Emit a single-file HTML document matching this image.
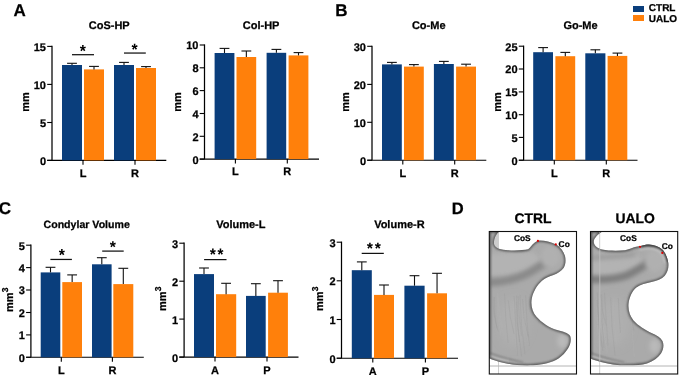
<!DOCTYPE html>
<html><head><meta charset="utf-8"><style>
html,body{margin:0;padding:0;background:#fff;}
body{width:685px;height:375px;overflow:hidden;}
svg{display:block;will-change:transform;}
text{stroke:#000;stroke-width:0.25px;}
</style></head><body>
<svg width="685" height="375" viewBox="0 0 685 375" font-family='"Liberation Sans", sans-serif' text-rendering="geometricPrecision">
<rect width="685" height="375" fill="#fff"/>
<line x1="52.0" y1="45.8" x2="52.0" y2="160.4" stroke="#000" stroke-width="1.25"/>
<line x1="47.2" y1="160.4" x2="166.3" y2="160.4" stroke="#000" stroke-width="1.1"/>
<line x1="47.2" y1="160.4" x2="52.0" y2="160.4" stroke="#000" stroke-width="1.1"/>
<text x="46.0" y="164.8" font-size="11" text-anchor="end" font-weight="bold" >0</text>
<line x1="47.2" y1="122.5" x2="52.0" y2="122.5" stroke="#000" stroke-width="1.1"/>
<text x="46.0" y="126.9" font-size="11" text-anchor="end" font-weight="bold" >5</text>
<line x1="47.2" y1="84.4" x2="52.0" y2="84.4" stroke="#000" stroke-width="1.1"/>
<text x="46.0" y="88.8" font-size="11" text-anchor="end" font-weight="bold" >10</text>
<line x1="47.2" y1="46.4" x2="52.0" y2="46.4" stroke="#000" stroke-width="1.1"/>
<text x="46.0" y="50.8" font-size="11" text-anchor="end" font-weight="bold" >15</text>
<rect x="62" y="65" width="20" height="95.4" fill="#0a3e7c"/>
<rect x="84" y="69.4" width="20" height="91.0" fill="#ff800b"/>
<rect x="114" y="65" width="20" height="95.4" fill="#0a3e7c"/>
<rect x="136" y="68" width="20" height="92.4" fill="#ff800b"/>
<line x1="72.0" y1="63.3" x2="72.0" y2="65" stroke="#111" stroke-width="1.1"/>
<line x1="67.1" y1="63.3" x2="76.9" y2="63.3" stroke="#111" stroke-width="1.1"/>
<line x1="94.0" y1="66.4" x2="94.0" y2="69.4" stroke="#111" stroke-width="1.1"/>
<line x1="89.1" y1="66.4" x2="98.9" y2="66.4" stroke="#111" stroke-width="1.1"/>
<line x1="124.0" y1="62.4" x2="124.0" y2="65" stroke="#111" stroke-width="1.1"/>
<line x1="119.1" y1="62.4" x2="128.9" y2="62.4" stroke="#111" stroke-width="1.1"/>
<line x1="146.0" y1="66.6" x2="146.0" y2="68" stroke="#111" stroke-width="1.1"/>
<line x1="141.1" y1="66.6" x2="150.9" y2="66.6" stroke="#111" stroke-width="1.1"/>
<line x1="83" y1="160.4" x2="83" y2="164.8" stroke="#000" stroke-width="1.1"/>
<text x="83" y="176.6" font-size="11" text-anchor="middle" font-weight="bold" >L</text>
<line x1="135" y1="160.4" x2="135" y2="164.8" stroke="#000" stroke-width="1.1"/>
<text x="135" y="176.6" font-size="11" text-anchor="middle" font-weight="bold" >R</text>
<text x="109.2" y="28.7" font-size="11" text-anchor="middle" font-weight="bold" >CoS-HP</text>
<text transform="translate(29.2,101.9) rotate(-90)" font-size="11" font-weight="bold" text-anchor="middle">mm</text>
<line x1="72" y1="54.7" x2="94" y2="54.7" stroke="#111" stroke-width="1.25"/>
<polygon points="83.545,47.294 85.331,46.462 85.848,48.038 83.948,48.526 85.362,50.23 83.963,51.198 82.854,49.182 81.721,51.198 80.308,50.214 81.752,48.526 79.852,48.038 80.369,46.462 82.185,47.294 82.048,45.102 83.682,45.102" fill="#000"/>
<line x1="124" y1="53.05" x2="145.8" y2="53.05" stroke="#111" stroke-width="1.25"/>
<polygon points="135.295,45.894 137.081,45.062 137.598,46.638 135.698,47.126 137.112,48.83 135.713,49.798 134.604,47.782 133.471,49.798 132.058,48.814 133.502,47.126 131.602,46.638 132.119,45.062 133.935,45.894 133.798,43.702 135.432,43.702" fill="#000"/>
<line x1="204.5" y1="44.4" x2="204.5" y2="159.1" stroke="#000" stroke-width="1.25"/>
<line x1="199.7" y1="159.1" x2="319" y2="159.1" stroke="#000" stroke-width="1.1"/>
<line x1="199.7" y1="159.1" x2="204.5" y2="159.1" stroke="#000" stroke-width="1.1"/>
<text x="198.5" y="163.5" font-size="11" text-anchor="end" font-weight="bold" >0</text>
<line x1="199.7" y1="136.3" x2="204.5" y2="136.3" stroke="#000" stroke-width="1.1"/>
<text x="198.5" y="140.7" font-size="11" text-anchor="end" font-weight="bold" >2</text>
<line x1="199.7" y1="113.5" x2="204.5" y2="113.5" stroke="#000" stroke-width="1.1"/>
<text x="198.5" y="117.9" font-size="11" text-anchor="end" font-weight="bold" >4</text>
<line x1="199.7" y1="90.6" x2="204.5" y2="90.6" stroke="#000" stroke-width="1.1"/>
<text x="198.5" y="95.0" font-size="11" text-anchor="end" font-weight="bold" >6</text>
<line x1="199.7" y1="67.8" x2="204.5" y2="67.8" stroke="#000" stroke-width="1.1"/>
<text x="198.5" y="72.2" font-size="11" text-anchor="end" font-weight="bold" >8</text>
<line x1="199.7" y1="45" x2="204.5" y2="45" stroke="#000" stroke-width="1.1"/>
<text x="198.5" y="49.4" font-size="11" text-anchor="end" font-weight="bold" >10</text>
<rect x="214.6" y="53" width="19.8" height="106.1" fill="#0a3e7c"/>
<rect x="236.5" y="57" width="19.7" height="102.1" fill="#ff800b"/>
<rect x="266.6" y="52.8" width="19.6" height="106.3" fill="#0a3e7c"/>
<rect x="288.6" y="55.4" width="19.8" height="103.7" fill="#ff800b"/>
<line x1="224.5" y1="48.4" x2="224.5" y2="53" stroke="#111" stroke-width="1.1"/>
<line x1="219.6" y1="48.4" x2="229.4" y2="48.4" stroke="#111" stroke-width="1.1"/>
<line x1="246.35" y1="51" x2="246.35" y2="57" stroke="#111" stroke-width="1.1"/>
<line x1="241.45" y1="51" x2="251.25" y2="51" stroke="#111" stroke-width="1.1"/>
<line x1="276.4" y1="49.4" x2="276.4" y2="52.8" stroke="#111" stroke-width="1.1"/>
<line x1="271.5" y1="49.4" x2="281.29999999999995" y2="49.4" stroke="#111" stroke-width="1.1"/>
<line x1="298.5" y1="52.6" x2="298.5" y2="55.4" stroke="#111" stroke-width="1.1"/>
<line x1="293.6" y1="52.6" x2="303.4" y2="52.6" stroke="#111" stroke-width="1.1"/>
<line x1="235.4" y1="159.1" x2="235.4" y2="163.5" stroke="#000" stroke-width="1.1"/>
<text x="235.4" y="175.4" font-size="11" text-anchor="middle" font-weight="bold" >L</text>
<line x1="287.3" y1="159.1" x2="287.3" y2="163.5" stroke="#000" stroke-width="1.1"/>
<text x="287.3" y="175.4" font-size="11" text-anchor="middle" font-weight="bold" >R</text>
<text x="261.1" y="28.7" font-size="11" text-anchor="middle" font-weight="bold" >Col-HP</text>
<text transform="translate(181.4,101.9) rotate(-90)" font-size="11" font-weight="bold" text-anchor="middle">mm</text>
<line x1="372.0" y1="45.699999999999996" x2="372.0" y2="160.2" stroke="#000" stroke-width="1.25"/>
<line x1="367.2" y1="160.2" x2="486.3" y2="160.2" stroke="#000" stroke-width="1.1"/>
<line x1="367.2" y1="160.2" x2="372.0" y2="160.2" stroke="#000" stroke-width="1.1"/>
<text x="366.0" y="164.6" font-size="11" text-anchor="end" font-weight="bold" >0</text>
<line x1="367.2" y1="122.3" x2="372.0" y2="122.3" stroke="#000" stroke-width="1.1"/>
<text x="366.0" y="126.7" font-size="11" text-anchor="end" font-weight="bold" >10</text>
<line x1="367.2" y1="84.4" x2="372.0" y2="84.4" stroke="#000" stroke-width="1.1"/>
<text x="366.0" y="88.8" font-size="11" text-anchor="end" font-weight="bold" >20</text>
<line x1="367.2" y1="46.3" x2="372.0" y2="46.3" stroke="#000" stroke-width="1.1"/>
<text x="366.0" y="50.7" font-size="11" text-anchor="end" font-weight="bold" >30</text>
<rect x="382" y="64.4" width="19.8" height="95.8" fill="#0a3e7c"/>
<rect x="404" y="66.6" width="19.8" height="93.6" fill="#ff800b"/>
<rect x="433.9" y="64" width="19.9" height="96.2" fill="#0a3e7c"/>
<rect x="456.1" y="66.6" width="19.9" height="93.6" fill="#ff800b"/>
<line x1="391.9" y1="62.4" x2="391.9" y2="64.4" stroke="#111" stroke-width="1.1"/>
<line x1="387.0" y1="62.4" x2="396.79999999999995" y2="62.4" stroke="#111" stroke-width="1.1"/>
<line x1="413.9" y1="64.6" x2="413.9" y2="66.6" stroke="#111" stroke-width="1.1"/>
<line x1="409.0" y1="64.6" x2="418.79999999999995" y2="64.6" stroke="#111" stroke-width="1.1"/>
<line x1="443.85" y1="61.4" x2="443.85" y2="64" stroke="#111" stroke-width="1.1"/>
<line x1="438.95000000000005" y1="61.4" x2="448.75" y2="61.4" stroke="#111" stroke-width="1.1"/>
<line x1="466.05" y1="64.2" x2="466.05" y2="66.6" stroke="#111" stroke-width="1.1"/>
<line x1="461.15000000000003" y1="64.2" x2="470.95" y2="64.2" stroke="#111" stroke-width="1.1"/>
<line x1="402.8" y1="160.2" x2="402.8" y2="164.6" stroke="#000" stroke-width="1.1"/>
<text x="402.8" y="176.6" font-size="11" text-anchor="middle" font-weight="bold" >L</text>
<line x1="454.7" y1="160.2" x2="454.7" y2="164.6" stroke="#000" stroke-width="1.1"/>
<text x="454.7" y="176.6" font-size="11" text-anchor="middle" font-weight="bold" >R</text>
<text x="428.7" y="28.7" font-size="11" text-anchor="middle" font-weight="bold" >Co-Me</text>
<text transform="translate(349.1,101.9) rotate(-90)" font-size="11" font-weight="bold" text-anchor="middle">mm</text>
<line x1="523.6" y1="45.6" x2="523.6" y2="160.2" stroke="#000" stroke-width="1.25"/>
<line x1="518.8000000000001" y1="160.2" x2="637.5" y2="160.2" stroke="#000" stroke-width="1.1"/>
<line x1="518.8000000000001" y1="160.2" x2="523.6" y2="160.2" stroke="#000" stroke-width="1.1"/>
<text x="517.6" y="164.6" font-size="11" text-anchor="end" font-weight="bold" >0</text>
<line x1="518.8000000000001" y1="137.4" x2="523.6" y2="137.4" stroke="#000" stroke-width="1.1"/>
<text x="517.6" y="141.8" font-size="11" text-anchor="end" font-weight="bold" >5</text>
<line x1="518.8000000000001" y1="114.7" x2="523.6" y2="114.7" stroke="#000" stroke-width="1.1"/>
<text x="517.6" y="119.1" font-size="11" text-anchor="end" font-weight="bold" >10</text>
<line x1="518.8000000000001" y1="91.9" x2="523.6" y2="91.9" stroke="#000" stroke-width="1.1"/>
<text x="517.6" y="96.3" font-size="11" text-anchor="end" font-weight="bold" >15</text>
<line x1="518.8000000000001" y1="69.0" x2="523.6" y2="69.0" stroke="#000" stroke-width="1.1"/>
<text x="517.6" y="73.4" font-size="11" text-anchor="end" font-weight="bold" >20</text>
<line x1="518.8000000000001" y1="46.2" x2="523.6" y2="46.2" stroke="#000" stroke-width="1.1"/>
<text x="517.6" y="50.6" font-size="11" text-anchor="end" font-weight="bold" >25</text>
<rect x="533.2" y="52.2" width="19.8" height="108.0" fill="#0a3e7c"/>
<rect x="555.4" y="56.2" width="19.8" height="104.0" fill="#ff800b"/>
<rect x="585.3" y="53.3" width="20.1" height="106.9" fill="#0a3e7c"/>
<rect x="607.6" y="55.9" width="19.7" height="104.3" fill="#ff800b"/>
<line x1="543.1" y1="47.6" x2="543.1" y2="52.2" stroke="#111" stroke-width="1.1"/>
<line x1="538.2" y1="47.6" x2="548.0" y2="47.6" stroke="#111" stroke-width="1.1"/>
<line x1="565.3" y1="52.4" x2="565.3" y2="56.2" stroke="#111" stroke-width="1.1"/>
<line x1="560.4" y1="52.4" x2="570.1999999999999" y2="52.4" stroke="#111" stroke-width="1.1"/>
<line x1="595.35" y1="49.8" x2="595.35" y2="53.3" stroke="#111" stroke-width="1.1"/>
<line x1="590.45" y1="49.8" x2="600.25" y2="49.8" stroke="#111" stroke-width="1.1"/>
<line x1="617.45" y1="53.1" x2="617.45" y2="55.9" stroke="#111" stroke-width="1.1"/>
<line x1="612.5500000000001" y1="53.1" x2="622.35" y2="53.1" stroke="#111" stroke-width="1.1"/>
<line x1="554.3" y1="160.2" x2="554.3" y2="164.6" stroke="#000" stroke-width="1.1"/>
<text x="554.3" y="176.6" font-size="11" text-anchor="middle" font-weight="bold" >L</text>
<line x1="606.3" y1="160.2" x2="606.3" y2="164.6" stroke="#000" stroke-width="1.1"/>
<text x="606.3" y="176.6" font-size="11" text-anchor="middle" font-weight="bold" >R</text>
<text x="580.5" y="28.7" font-size="11" text-anchor="middle" font-weight="bold" >Go-Me</text>
<text transform="translate(500.8,101.9) rotate(-90)" font-size="11" font-weight="bold" text-anchor="middle">mm</text>
<line x1="30.9" y1="244.6" x2="30.9" y2="357.3" stroke="#000" stroke-width="1.25"/>
<line x1="26.099999999999998" y1="357.3" x2="143.8" y2="357.3" stroke="#000" stroke-width="1.1"/>
<line x1="26.099999999999998" y1="357.3" x2="30.9" y2="357.3" stroke="#000" stroke-width="1.1"/>
<text x="24.9" y="361.7" font-size="11" text-anchor="end" font-weight="bold" >0</text>
<line x1="26.099999999999998" y1="334.9" x2="30.9" y2="334.9" stroke="#000" stroke-width="1.1"/>
<text x="24.9" y="339.3" font-size="11" text-anchor="end" font-weight="bold" >1</text>
<line x1="26.099999999999998" y1="312.5" x2="30.9" y2="312.5" stroke="#000" stroke-width="1.1"/>
<text x="24.9" y="316.9" font-size="11" text-anchor="end" font-weight="bold" >2</text>
<line x1="26.099999999999998" y1="290.0" x2="30.9" y2="290.0" stroke="#000" stroke-width="1.1"/>
<text x="24.9" y="294.4" font-size="11" text-anchor="end" font-weight="bold" >3</text>
<line x1="26.099999999999998" y1="267.6" x2="30.9" y2="267.6" stroke="#000" stroke-width="1.1"/>
<text x="24.9" y="272.0" font-size="11" text-anchor="end" font-weight="bold" >4</text>
<line x1="26.099999999999998" y1="245.2" x2="30.9" y2="245.2" stroke="#000" stroke-width="1.1"/>
<text x="24.9" y="249.6" font-size="11" text-anchor="end" font-weight="bold" >5</text>
<rect x="40.7" y="272.4" width="19.6" height="84.9" fill="#0a3e7c"/>
<rect x="62.3" y="282.1" width="19.7" height="75.2" fill="#ff800b"/>
<rect x="92" y="264.3" width="19.6" height="93.0" fill="#0a3e7c"/>
<rect x="113.3" y="284.1" width="20.0" height="73.2" fill="#ff800b"/>
<line x1="50.5" y1="267.3" x2="50.5" y2="272.4" stroke="#111" stroke-width="1.1"/>
<line x1="45.6" y1="267.3" x2="55.4" y2="267.3" stroke="#111" stroke-width="1.1"/>
<line x1="72.15" y1="274.9" x2="72.15" y2="282.1" stroke="#111" stroke-width="1.1"/>
<line x1="67.25" y1="274.9" x2="77.05000000000001" y2="274.9" stroke="#111" stroke-width="1.1"/>
<line x1="101.8" y1="257.7" x2="101.8" y2="264.3" stroke="#111" stroke-width="1.1"/>
<line x1="96.89999999999999" y1="257.7" x2="106.7" y2="257.7" stroke="#111" stroke-width="1.1"/>
<line x1="123.3" y1="268.3" x2="123.3" y2="284.1" stroke="#111" stroke-width="1.1"/>
<line x1="118.39999999999999" y1="268.3" x2="128.2" y2="268.3" stroke="#111" stroke-width="1.1"/>
<line x1="61.3" y1="357.3" x2="61.3" y2="361.7" stroke="#000" stroke-width="1.1"/>
<text x="61.3" y="374.4" font-size="11" text-anchor="middle" font-weight="bold" >L</text>
<line x1="112.4" y1="357.3" x2="112.4" y2="361.7" stroke="#000" stroke-width="1.1"/>
<text x="112.4" y="374.4" font-size="11" text-anchor="middle" font-weight="bold" >R</text>
<text x="86.7" y="228" font-size="10.6" text-anchor="middle" font-weight="bold" >Condylar Volume</text>
<text transform="translate(13.4,302.15) rotate(-90)" font-size="11" font-weight="bold" text-anchor="middle">mm</text>
<text transform="translate(8.3,292.25) rotate(-90)" font-size="8.6" font-weight="bold" text-rendering="geometricPrecision">3</text>
<line x1="50.4" y1="259.45" x2="71.9" y2="259.45" stroke="#111" stroke-width="1.25"/>
<polygon points="62.545,251.294 64.331,250.462 64.848,252.038 62.948,252.526 64.362,254.23 62.963,255.198 61.854,253.182 60.721,255.198 59.308,254.214 60.752,252.526 58.852,252.038 59.369,250.462 61.185,251.294 61.048,249.102 62.682,249.102" fill="#000"/>
<line x1="102.2" y1="251.1" x2="123.7" y2="251.1" stroke="#111" stroke-width="1.25"/>
<polygon points="113.545,243.394 115.331,242.562 115.848,244.138 113.948,244.626 115.362,246.33 113.963,247.298 112.854,245.282 111.721,247.298 110.308,246.314 111.752,244.626 109.852,244.138 110.369,242.562 112.185,243.394 112.048,241.202 113.682,241.202" fill="#000"/>
<line x1="184.1" y1="242.6" x2="184.1" y2="357.1" stroke="#000" stroke-width="1.25"/>
<line x1="179.29999999999998" y1="357.1" x2="298.5" y2="357.1" stroke="#000" stroke-width="1.1"/>
<line x1="179.29999999999998" y1="357.1" x2="184.1" y2="357.1" stroke="#000" stroke-width="1.1"/>
<text x="178.1" y="361.5" font-size="11" text-anchor="end" font-weight="bold" >0</text>
<line x1="179.29999999999998" y1="319.1" x2="184.1" y2="319.1" stroke="#000" stroke-width="1.1"/>
<text x="178.1" y="323.5" font-size="11" text-anchor="end" font-weight="bold" >1</text>
<line x1="179.29999999999998" y1="281.2" x2="184.1" y2="281.2" stroke="#000" stroke-width="1.1"/>
<text x="178.1" y="285.6" font-size="11" text-anchor="end" font-weight="bold" >2</text>
<line x1="179.29999999999998" y1="243.2" x2="184.1" y2="243.2" stroke="#000" stroke-width="1.1"/>
<text x="178.1" y="247.6" font-size="11" text-anchor="end" font-weight="bold" >3</text>
<rect x="194" y="274.1" width="20" height="83.0" fill="#0a3e7c"/>
<rect x="216" y="294.2" width="20.2" height="62.9" fill="#ff800b"/>
<rect x="246" y="295.9" width="19.7" height="61.2" fill="#0a3e7c"/>
<rect x="268.1" y="292.7" width="19.8" height="64.4" fill="#ff800b"/>
<line x1="204.0" y1="268" x2="204.0" y2="274.1" stroke="#111" stroke-width="1.1"/>
<line x1="199.1" y1="268" x2="208.9" y2="268" stroke="#111" stroke-width="1.1"/>
<line x1="226.1" y1="283.3" x2="226.1" y2="294.2" stroke="#111" stroke-width="1.1"/>
<line x1="221.2" y1="283.3" x2="231.0" y2="283.3" stroke="#111" stroke-width="1.1"/>
<line x1="255.85" y1="283.7" x2="255.85" y2="295.9" stroke="#111" stroke-width="1.1"/>
<line x1="250.95" y1="283.7" x2="260.75" y2="283.7" stroke="#111" stroke-width="1.1"/>
<line x1="278.0" y1="280.7" x2="278.0" y2="292.7" stroke="#111" stroke-width="1.1"/>
<line x1="273.1" y1="280.7" x2="282.9" y2="280.7" stroke="#111" stroke-width="1.1"/>
<line x1="215" y1="357.1" x2="215" y2="361.5" stroke="#000" stroke-width="1.1"/>
<text x="215" y="374.4" font-size="11" text-anchor="middle" font-weight="bold" >A</text>
<line x1="267" y1="357.1" x2="267" y2="361.5" stroke="#000" stroke-width="1.1"/>
<text x="267" y="374.4" font-size="11" text-anchor="middle" font-weight="bold" >P</text>
<text x="240.85" y="227.8" font-size="11" text-anchor="middle" font-weight="bold" >Volume-L</text>
<text transform="translate(166.3,301.2) rotate(-90)" font-size="11" font-weight="bold" text-anchor="middle">mm</text>
<text transform="translate(161.2,291.3) rotate(-90)" font-size="8.6" font-weight="bold" text-rendering="geometricPrecision">3</text>
<line x1="204.1" y1="259.6" x2="226.5" y2="259.6" stroke="#111" stroke-width="1.25"/>
<polygon points="213.545,250.744 215.331,249.912 215.848,251.488 213.948,251.976 215.362,253.68 213.963,254.648 212.854,252.632 211.721,254.648 210.308,253.664 211.752,251.976 209.852,251.488 210.369,249.912 212.185,250.744 212.048,248.552 213.682,248.552" fill="#000"/>
<polygon points="221.145,250.744 222.931,249.912 223.448,251.488 221.548,251.976 222.962,253.68 221.563,254.648 220.454,252.632 219.321,254.648 217.908,253.664 219.352,251.976 217.452,251.488 217.969,249.912 219.785,250.744 219.648,248.552 221.282,248.552" fill="#000"/>
<line x1="341.5" y1="241.6" x2="341.5" y2="358.2" stroke="#000" stroke-width="1.25"/>
<line x1="336.7" y1="358.2" x2="458" y2="358.2" stroke="#000" stroke-width="1.1"/>
<line x1="336.7" y1="358.2" x2="341.5" y2="358.2" stroke="#000" stroke-width="1.1"/>
<text x="335.5" y="362.6" font-size="11" text-anchor="end" font-weight="bold" >0</text>
<line x1="336.7" y1="319.5" x2="341.5" y2="319.5" stroke="#000" stroke-width="1.1"/>
<text x="335.5" y="323.9" font-size="11" text-anchor="end" font-weight="bold" >1</text>
<line x1="336.7" y1="280.8" x2="341.5" y2="280.8" stroke="#000" stroke-width="1.1"/>
<text x="335.5" y="285.2" font-size="11" text-anchor="end" font-weight="bold" >2</text>
<line x1="336.7" y1="242.2" x2="341.5" y2="242.2" stroke="#000" stroke-width="1.1"/>
<text x="335.5" y="246.6" font-size="11" text-anchor="end" font-weight="bold" >3</text>
<rect x="351.8" y="270.2" width="20.0" height="88.0" fill="#0a3e7c"/>
<rect x="374" y="294.9" width="20" height="63.3" fill="#ff800b"/>
<rect x="404.4" y="285.7" width="20.2" height="72.5" fill="#0a3e7c"/>
<rect x="427.1" y="293.3" width="19.9" height="64.9" fill="#ff800b"/>
<line x1="361.8" y1="261.9" x2="361.8" y2="270.2" stroke="#111" stroke-width="1.1"/>
<line x1="356.90000000000003" y1="261.9" x2="366.7" y2="261.9" stroke="#111" stroke-width="1.1"/>
<line x1="384.0" y1="285" x2="384.0" y2="294.9" stroke="#111" stroke-width="1.1"/>
<line x1="379.1" y1="285" x2="388.9" y2="285" stroke="#111" stroke-width="1.1"/>
<line x1="414.5" y1="275.7" x2="414.5" y2="285.7" stroke="#111" stroke-width="1.1"/>
<line x1="409.6" y1="275.7" x2="419.4" y2="275.7" stroke="#111" stroke-width="1.1"/>
<line x1="437.05" y1="273.3" x2="437.05" y2="293.3" stroke="#111" stroke-width="1.1"/>
<line x1="432.15000000000003" y1="273.3" x2="441.95" y2="273.3" stroke="#111" stroke-width="1.1"/>
<line x1="372.8" y1="358.2" x2="372.8" y2="362.59999999999997" stroke="#000" stroke-width="1.1"/>
<text x="372.8" y="374.6" font-size="11" text-anchor="middle" font-weight="bold" >A</text>
<line x1="425.4" y1="358.2" x2="425.4" y2="362.59999999999997" stroke="#000" stroke-width="1.1"/>
<text x="425.4" y="374.6" font-size="11" text-anchor="middle" font-weight="bold" >P</text>
<text x="399.4" y="227.8" font-size="11" text-anchor="middle" font-weight="bold" >Volume-R</text>
<text transform="translate(322.6,301.2) rotate(-90)" font-size="11" font-weight="bold" text-anchor="middle">mm</text>
<text transform="translate(317.5,291.3) rotate(-90)" font-size="8.6" font-weight="bold" text-rendering="geometricPrecision">3</text>
<line x1="361.7" y1="253.4" x2="383.8" y2="253.4" stroke="#111" stroke-width="1.25"/>
<polygon points="370.595,244.844 372.381,244.012 372.898,245.588 370.998,246.076 372.412,247.78 371.013,248.748 369.904,246.732 368.771,248.748 367.358,247.764 368.802,246.076 366.902,245.588 367.419,244.012 369.235,244.844 369.098,242.652 370.732,242.652" fill="#000"/>
<polygon points="378.545,244.844 380.331,244.012 380.848,245.588 378.948,246.076 380.362,247.78 378.963,248.748 377.854,246.732 376.721,248.748 375.308,247.764 376.752,246.076 374.852,245.588 375.369,244.012 377.185,244.844 377.048,242.652 378.682,242.652" fill="#000"/>
<text x="13.4" y="15.9" font-size="17" text-anchor="start" font-weight="bold" >A</text>
<text x="335.2" y="16.0" font-size="17" text-anchor="start" font-weight="bold" >B</text>
<text x="-1.2" y="214.3" font-size="17" text-anchor="start" font-weight="bold" >C</text>
<text x="451.7" y="214.3" font-size="16.5" text-anchor="start" font-weight="bold" >D</text>
<rect x="633" y="6" width="11" height="6" fill="#0a3e7c"/>
<rect x="633" y="15" width="11" height="6" fill="#ff800b"/>
<text x="648.8" y="11.4" font-size="10.0" text-anchor="start" font-weight="bold" >CTRL</text>
<text x="648.8" y="21.7" font-size="10.0" text-anchor="start" font-weight="bold" >UALO</text>
<text x="533.05" y="223" font-size="13.9" text-anchor="middle" font-weight="bold" >CTRL</text>
<text x="635.1" y="223" font-size="13.9" text-anchor="middle" font-weight="bold" >UALO</text>
<defs>
<filter id="bl2" filterUnits="userSpaceOnUse" x="470" y="220" width="215" height="160"><feGaussianBlur stdDeviation="2"/></filter>
<filter id="bl4" filterUnits="userSpaceOnUse" x="470" y="220" width="215" height="160"><feGaussianBlur stdDeviation="4"/></filter>
<filter id="bl1" filterUnits="userSpaceOnUse" x="470" y="220" width="215" height="160"><feGaussianBlur stdDeviation="0.9"/></filter>
<clipPath id="cpA"><path d="M489.3,231.3 L500,231.3 C496.5,233 493.8,238.5 494,243.4 C494.3,247.2 498.5,249.3 506,250.1 C514,250.7 523,250.4 528.2,249.3 C530.5,247.5 532,244.5 534.5,242.8 C536,241.6 537,240.9 538,240.7 C543,240.2 550,241.6 556,244.4 C560.5,247 563.8,251.5 565,256 C566,260.5 565.6,264.5 563.8,267.8 C561.5,271.2 557.5,273.4 553.5,275 C549.5,276.3 545.5,277.8 542,280.8 C537.2,285 533.3,291.5 531.8,298.5 C530.6,305 532.2,312 536.5,316.8 C541.5,322.5 549,327.8 557.9,330.3 C563,331.6 568,332.8 570.2,336 C571.5,339.5 570.6,344.5 568,348.5 C565.5,352.5 562.5,355.8 558.5,358.4 C552,362.6 543,364.6 533,365.3 C522,365.9 511,364.7 503,362.8 C497,361.4 492.5,359.8 489.3,358.2 Z"/></clipPath>
<clipPath id="cpB"><path d="M590.6,231.3 L602.8,231.3 C598.5,234 594.3,237.5 593.8,241.3 C593.5,245 597,248.2 602,249.5 C609,250.9 618,250.9 625,250.2 C629,249.7 631.5,248.2 634,247.3 C637,246.5 639,246.2 640,246.2 C643,245 646,244.4 649,244.4 C654,244.6 659,246.5 662.3,249.6 C665.5,252.8 667.6,258 668.4,263.5 C668.8,268 667.6,272 664.8,275.8 C661.8,279.2 656.8,280.8 651.5,282 C646,283.2 640.5,284.5 636.3,287.5 C631.8,291.5 629.3,297.5 628.5,304 C628,310.5 630,316 633.5,320.5 C638,325.5 645,330 652,333.2 C656.5,335 660.5,337.5 662.5,341 C664.2,345 663.5,349.5 661,353.5 C658,358 653.5,361 647,363.5 C640,365.4 630,365.6 620,365.2 C610,364.5 602,362.5 596,360.5 C593.5,359.7 591.8,359 590.6,358.5 Z"/></clipPath>
</defs>
<line x1="498.5" y1="232" x2="498.5" y2="374" stroke="#cfcfcf" stroke-width="1"/>
<path d="M493,232 L498.2,232 L498.2,249 L493,249 Z" fill="#cdcdcd"/>
<path d="M489.3,231.3 L500,231.3 C496.5,233 493.8,238.5 494,243.4 C494.3,247.2 498.5,249.3 506,250.1 C514,250.7 523,250.4 528.2,249.3 C530.5,247.5 532,244.5 534.5,242.8 C536,241.6 537,240.9 538,240.7 C543,240.2 550,241.6 556,244.4 C560.5,247 563.8,251.5 565,256 C566,260.5 565.6,264.5 563.8,267.8 C561.5,271.2 557.5,273.4 553.5,275 C549.5,276.3 545.5,277.8 542,280.8 C537.2,285 533.3,291.5 531.8,298.5 C530.6,305 532.2,312 536.5,316.8 C541.5,322.5 549,327.8 557.9,330.3 C563,331.6 568,332.8 570.2,336 C571.5,339.5 570.6,344.5 568,348.5 C565.5,352.5 562.5,355.8 558.5,358.4 C552,362.6 543,364.6 533,365.3 C522,365.9 511,364.7 503,362.8 C497,361.4 492.5,359.8 489.3,358.2 Z" fill="#aaaaaa"/>
<g clip-path="url(#cpA)">
<path d="M483.3,254 L533.3,252 L543.3,262 L529.3,271 L507.3,275.5 L483.3,276 Z" fill="#b3b3b3" filter="url(#bl2)"/>
<path d="M483.3,282.5 C503.3,282.5 519.3,278 529.3,272.5 C536.3,268.5 542.3,264.5 549.3,260" stroke="#8a8a8a" stroke-width="8" fill="none" filter="url(#bl2)"/>
<ellipse cx="550.3" cy="257" rx="10" ry="11" fill="#b0b0b0" filter="url(#bl2)"/>
<ellipse cx="513.3" cy="322" rx="15" ry="24" fill="#afafaf" filter="url(#bl4)"/>
<path d="M504.6,293.5 q0.6,24.8 3.5,49.5" stroke="#909090" stroke-width="0.6" fill="none" opacity="0.35"/>
<path d="M494.5,297.1 q-0.8,15.6 2.4,31.1" stroke="#909090" stroke-width="0.6" fill="none" opacity="0.35"/>
<path d="M508.4,300.3 q0.9,16.9 5.8,33.7" stroke="#909090" stroke-width="0.6" fill="none" opacity="0.35"/>
<path d="M514.2,296.0 q1.6,29.6 3.2,59.3" stroke="#909090" stroke-width="0.6" fill="none" opacity="0.35"/>
<path d="M497.8,293.2 q-0.5,19.6 4.3,39.3" stroke="#b8b8b8" stroke-width="0.6" fill="none" opacity="0.35"/>
<path d="M516.6,295.7 q-0.8,23.2 2.8,46.4" stroke="#909090" stroke-width="0.6" fill="none" opacity="0.35"/>
<path d="M518.2,296.3 q0.4,19.7 3.2,39.4" stroke="#909090" stroke-width="0.6" fill="none" opacity="0.35"/>
<path d="M522.5,299.0 q0.6,18.7 5.5,37.3" stroke="#909090" stroke-width="0.6" fill="none" opacity="0.35"/>
<path d="M520.0,294.9 q0.3,29.7 5.0,59.4" stroke="#909090" stroke-width="0.6" fill="none" opacity="0.35"/>
<path d="M498.1,296.9 q1.3,15.6 4.3,31.2" stroke="#b8b8b8" stroke-width="0.6" fill="none" opacity="0.35"/>
<path d="M525.6,295.1 q0.7,25.4 3.8,50.9" stroke="#909090" stroke-width="0.6" fill="none" opacity="0.35"/>
<path d="M524.2,301.4 q-0.8,22.1 4.8,44.2" stroke="#b8b8b8" stroke-width="0.6" fill="none" opacity="0.35"/>
<path d="M516.9,301.9 q0.2,27.3 4.7,54.7" stroke="#909090" stroke-width="0.6" fill="none" opacity="0.35"/>
<path d="M493.2,296.6 q-0.8,17.5 5.1,35.0" stroke="#909090" stroke-width="0.6" fill="none" opacity="0.35"/>
<path d="M497.2,294.5 q-0.8,20.9 3.8,41.7" stroke="#b8b8b8" stroke-width="0.6" fill="none" opacity="0.35"/>
<path d="M513.2,300.8 q-0.2,27.3 3.7,54.6" stroke="#b8b8b8" stroke-width="0.6" fill="none" opacity="0.35"/>
<line x1="490.1" y1="231" x2="490.1" y2="375" stroke="#8a8a8a" stroke-width="1.4" filter="url(#bl1)"/>
<path d="M486.3,355.5 C497.3,359 509.3,362.5 523.3,364.5" stroke="#c2c2c2" stroke-width="2.6" fill="none" filter="url(#bl1)"/>
<path d="M486.3,352 C497.3,356 509.3,360 523.3,362.5" stroke="#6a6a6a" stroke-width="1.1" fill="none" filter="url(#bl1)"/>
<ellipse cx="562.3" cy="341" rx="5" ry="7" fill="#bababa" filter="url(#bl2)"/>
<path d="M489.3,231.3 L500,231.3 C496.5,233 493.8,238.5 494,243.4 C494.3,247.2 498.5,249.3 506,250.1 C514,250.7 523,250.4 528.2,249.3 C530.5,247.5 532,244.5 534.5,242.8 C536,241.6 537,240.9 538,240.7 C543,240.2 550,241.6 556,244.4 C560.5,247 563.8,251.5 565,256 C566,260.5 565.6,264.5 563.8,267.8 C561.5,271.2 557.5,273.4 553.5,275 C549.5,276.3 545.5,277.8 542,280.8 C537.2,285 533.3,291.5 531.8,298.5 C530.6,305 532.2,312 536.5,316.8 C541.5,322.5 549,327.8 557.9,330.3 C563,331.6 568,332.8 570.2,336 C571.5,339.5 570.6,344.5 568,348.5 C565.5,352.5 562.5,355.8 558.5,358.4 C552,362.6 543,364.6 533,365.3 C522,365.9 511,364.7 503,362.8 C497,361.4 492.5,359.8 489.3,358.2 Z" fill="none" stroke="#4e4e4e" stroke-width="2.4" filter="url(#bl1)"/>
</g>
<line x1="489.3" y1="366" x2="576.3" y2="366" stroke="#b4b4b4" stroke-width="1"/>
<rect x="489.3" y="231.5" width="87.2" height="142.5" fill="none" stroke="#111" stroke-width="1.1"/>
<line x1="599.7" y1="232" x2="599.7" y2="374" stroke="#cfcfcf" stroke-width="1"/>
<path d="M590.6,231.3 L602.8,231.3 C598.5,234 594.3,237.5 593.8,241.3 C593.5,245 597,248.2 602,249.5 C609,250.9 618,250.9 625,250.2 C629,249.7 631.5,248.2 634,247.3 C637,246.5 639,246.2 640,246.2 C643,245 646,244.4 649,244.4 C654,244.6 659,246.5 662.3,249.6 C665.5,252.8 667.6,258 668.4,263.5 C668.8,268 667.6,272 664.8,275.8 C661.8,279.2 656.8,280.8 651.5,282 C646,283.2 640.5,284.5 636.3,287.5 C631.8,291.5 629.3,297.5 628.5,304 C628,310.5 630,316 633.5,320.5 C638,325.5 645,330 652,333.2 C656.5,335 660.5,337.5 662.5,341 C664.2,345 663.5,349.5 661,353.5 C658,358 653.5,361 647,363.5 C640,365.4 630,365.6 620,365.2 C610,364.5 602,362.5 596,360.5 C593.5,359.7 591.8,359 590.6,358.5 Z" fill="#aaaaaa"/>
<g clip-path="url(#cpB)">
<path d="M584.5,254 L634.5,252 L644.5,262 L630.5,271 L608.5,275.5 L584.5,276 Z" fill="#b3b3b3" filter="url(#bl2)"/>
<path d="M584.5,279 C602.5,280 616.5,279.5 626.5,275.5 C634.5,272 640.5,267.5 650.5,262" stroke="#7e7e7e" stroke-width="7.5" fill="none" filter="url(#bl2)"/>
<path d="M584.5,258 C610.5,257 625.5,256 635.5,254" stroke="#9c9c9c" stroke-width="5" fill="none" filter="url(#bl2)"/>
<ellipse cx="654.5" cy="261" rx="10" ry="11" fill="#b0b0b0" filter="url(#bl2)"/>
<ellipse cx="614.5" cy="322" rx="15" ry="24" fill="#afafaf" filter="url(#bl4)"/>
<path d="M610.7,297.6 q0.5,28.9 4.3,57.7" stroke="#909090" stroke-width="0.6" fill="none" opacity="0.35"/>
<path d="M600.5,297.1 q-0.7,24.4 3.2,48.9" stroke="#b8b8b8" stroke-width="0.6" fill="none" opacity="0.35"/>
<path d="M596.9,300.1 q1.9,25.4 5.9,50.8" stroke="#909090" stroke-width="0.6" fill="none" opacity="0.35"/>
<path d="M618.3,298.2 q0.6,17.4 2.2,34.7" stroke="#909090" stroke-width="0.6" fill="none" opacity="0.35"/>
<path d="M600.7,294.4 q0.3,15.5 5.4,30.9" stroke="#909090" stroke-width="0.6" fill="none" opacity="0.35"/>
<path d="M613.2,298.4 q0.4,22.5 3.1,45.0" stroke="#b8b8b8" stroke-width="0.6" fill="none" opacity="0.35"/>
<path d="M631.4,302.0 q-0.1,27.6 2.9,55.2" stroke="#b8b8b8" stroke-width="0.6" fill="none" opacity="0.35"/>
<path d="M604.5,292.7 q1.5,26.5 3.5,53.0" stroke="#909090" stroke-width="0.6" fill="none" opacity="0.35"/>
<path d="M629.9,300.5 q1.7,15.0 3.9,30.0" stroke="#909090" stroke-width="0.6" fill="none" opacity="0.35"/>
<path d="M630.8,296.0 q1.3,16.1 3.1,32.2" stroke="#b8b8b8" stroke-width="0.6" fill="none" opacity="0.35"/>
<path d="M596.8,295.3 q-0.6,29.5 3.0,58.9" stroke="#b8b8b8" stroke-width="0.6" fill="none" opacity="0.35"/>
<path d="M597.3,292.6 q0.7,27.0 3.8,53.9" stroke="#909090" stroke-width="0.6" fill="none" opacity="0.35"/>
<path d="M600.7,299.3 q-0.7,17.0 3.7,33.9" stroke="#b8b8b8" stroke-width="0.6" fill="none" opacity="0.35"/>
<path d="M601.6,294.7 q-0.1,29.6 5.5,59.1" stroke="#b8b8b8" stroke-width="0.6" fill="none" opacity="0.35"/>
<path d="M601.5,295.9 q-0.7,27.8 6.0,55.6" stroke="#b8b8b8" stroke-width="0.6" fill="none" opacity="0.35"/>
<path d="M601.6,294.6 q-0.1,26.6 2.3,53.2" stroke="#909090" stroke-width="0.6" fill="none" opacity="0.35"/>
<line x1="591.3" y1="231" x2="591.3" y2="375" stroke="#8a8a8a" stroke-width="1.4" filter="url(#bl1)"/>
<path d="M587.5,355.5 C598.5,359 610.5,362.5 624.5,364.5" stroke="#c2c2c2" stroke-width="2.6" fill="none" filter="url(#bl1)"/>
<path d="M587.5,352 C598.5,356 610.5,360 624.5,362.5" stroke="#6a6a6a" stroke-width="1.1" fill="none" filter="url(#bl1)"/>
<ellipse cx="654.5" cy="346" rx="5" ry="7" fill="#bababa" filter="url(#bl2)"/>
<path d="M590.6,231.3 L602.8,231.3 C598.5,234 594.3,237.5 593.8,241.3 C593.5,245 597,248.2 602,249.5 C609,250.9 618,250.9 625,250.2 C629,249.7 631.5,248.2 634,247.3 C637,246.5 639,246.2 640,246.2 C643,245 646,244.4 649,244.4 C654,244.6 659,246.5 662.3,249.6 C665.5,252.8 667.6,258 668.4,263.5 C668.8,268 667.6,272 664.8,275.8 C661.8,279.2 656.8,280.8 651.5,282 C646,283.2 640.5,284.5 636.3,287.5 C631.8,291.5 629.3,297.5 628.5,304 C628,310.5 630,316 633.5,320.5 C638,325.5 645,330 652,333.2 C656.5,335 660.5,337.5 662.5,341 C664.2,345 663.5,349.5 661,353.5 C658,358 653.5,361 647,363.5 C640,365.4 630,365.6 620,365.2 C610,364.5 602,362.5 596,360.5 C593.5,359.7 591.8,359 590.6,358.5 Z" fill="none" stroke="#4e4e4e" stroke-width="2.4" filter="url(#bl1)"/>
<line x1="599.8" y1="231" x2="599.8" y2="375" stroke="#c0c0c0" stroke-width="0.8"/>
<path d="M639.5,249.5 C646.5,247.5 652.5,247.5 658.5,250.5 C662.5,253 664.5,257 665.5,263" stroke="#c2c2c2" stroke-width="2.2" fill="none" filter="url(#bl1)"/>
<path d="M640.5,246.2 C646.5,244 653.5,244 660.5,247.5 C664.5,250 667.5,255 668.5,262" stroke="#3e3e3e" stroke-width="3" fill="none" filter="url(#bl1)"/>
</g>
<line x1="590.5" y1="366" x2="677.5" y2="366" stroke="#b4b4b4" stroke-width="1"/>
<rect x="590.5" y="231.5" width="87.2" height="142.5" fill="none" stroke="#111" stroke-width="1.1"/>
<text x="522.3" y="241" font-size="8.4" font-weight="bold" text-anchor="middle">CoS</text>
<text x="564.2" y="247.2" font-size="8.4" font-weight="bold" text-anchor="middle">Co</text>
<text x="628.4" y="241" font-size="8.4" font-weight="bold" text-anchor="middle">CoS</text>
<text x="667.3" y="248.8" font-size="8.4" font-weight="bold" text-anchor="middle">Co</text>
<circle cx="537.9" cy="240.9" r="1.1" fill="#e00000"/>
<circle cx="555.8" cy="244.4" r="1.1" fill="#e00000"/>
<circle cx="640" cy="246.8" r="1.1" fill="#e00000"/>
<circle cx="662.3" cy="252.9" r="1.1" fill="#e00000"/>
</svg>
</body></html>
